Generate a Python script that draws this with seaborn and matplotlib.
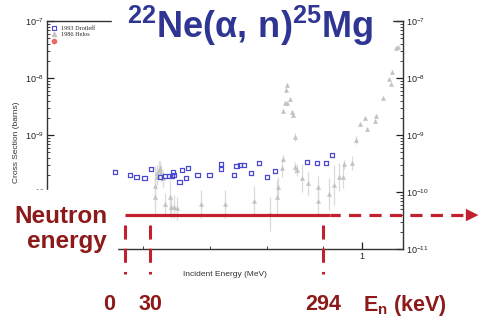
import matplotlib
matplotlib.use("Agg")
import numpy as np
import pandas as pd
import matplotlib.pyplot as plt
import seaborn as sns
from matplotlib.lines import Line2D
from matplotlib.patches import Rectangle
from matplotlib.ticker import FixedLocator, NullFormatter, LogLocator
import matplotlib.transforms as mtrans

# ---------------------------
# DATA
# ---------------------------
# 1993 Drotleff: incident alpha energy (MeV) and cross section (barns)
drot_energy = [0.563, 0.589, 0.601, 0.615, 0.627, 0.643, 0.651, 0.659, 0.664, 0.666,
               0.668, 0.677, 0.681, 0.688, 0.692, 0.709, 0.730, 0.750, 0.751, 0.773,
               0.778, 0.784, 0.791, 0.804, 0.817, 0.832, 0.846, 0.903, 0.920, 0.936,
               0.947]
drot_xs = [2.25e-10, 2.01e-10, 1.81e-10, 1.74e-10, 2.50e-10, 1.83e-10, 1.91e-10, 1.91e-10,
           1.93e-10, 2.22e-10, 2.01e-10, 1.52e-10, 2.40e-10, 1.74e-10, 2.61e-10, 2.01e-10,
           2.01e-10, 3.06e-10, 2.56e-10, 2.01e-10, 2.89e-10, 3.01e-10, 3.01e-10, 2.13e-10,
           3.19e-10, 1.81e-10, 2.34e-10, 3.36e-10, 3.27e-10, 3.27e-10, 4.46e-10]

# 1986 Helos: energy (MeV), cross section (barns), error half-width in decades
helos_energy = [0.634, 0.634, 0.637, 0.638, 0.641, 0.642, 0.645, 0.647, 0.651, 0.660,
                0.662, 0.668, 0.672, 0.715, 0.758, 0.808, 0.837, 0.849, 0.851, 0.859,
                0.860, 0.861, 0.864, 0.865, 0.867, 0.867, 0.873, 0.877, 0.878, 0.881,
                0.881, 0.885, 0.893, 0.904, 0.923, 0.923, 0.941, 0.951, 0.959, 0.967,
                0.968, 0.982, 0.990, 0.997, 1.005, 1.009, 1.023, 1.025, 1.037, 1.047,
                1.051, 1.054, 1.060, 1.064]
helos_xs = [1.29e-10, 8.27e-11, 1.85e-10, 2.13e-10, 2.43e-10, 2.64e-10, 2.13e-10, 1.74e-10,
            6.15e-11, 8.07e-11, 5.52e-11, 5.52e-11, 5.18e-11, 6.15e-11, 6.15e-11, 7.03e-11,
            4.11e-11, 8.17e-11, 1.21e-10, 2.61e-10, 3.87e-10, 2.66e-9, 3.71e-9, 6.28e-9,
            7.54e-9, 3.60e-9, 4.23e-9, 2.56e-9, 2.24e-9, 9.12e-10, 2.71e-10, 2.43e-10,
            1.76e-10, 1.42e-10, 1.21e-10, 7.03e-11, 9.15e-11, 1.32e-10, 1.85e-10, 1.84e-10,
            3.06e-10, 3.27e-10, 8.07e-10, 1.54e-9, 1.96e-9, 1.26e-9, 1.73e-9, 2.15e-9,
            4.40e-9, 9.50e-9, 7.74e-9, 1.27e-8, 3.32e-8, 3.54e-8]
helos_err = [0.35, 0.35, 0.15, 0.15, 0.15, 0.12, 0.15, 0.15, 0.2, 0.3,
             0.2, 0.2, 0.2, 0.25, 0.25, 0.25, 0.3, 0.3, 0.18, 0.15,
             0.07, 0.03, 0.03, 0.03, 0.03, 0.03, 0.03, 0.03, 0.03, 0.07,
             0.1, 0.1, 0.25, 0.2, 0.2, 0.28, 0.28, 0.35, 0.25, 0.2,
             0.08, 0.12, 0.07, 0.03, 0.03, 0.03, 0.03, 0.03, 0.03, 0.02,
             0.02, 0.02, 0.02, 0.02]

# neutron energy markers (keV) and the alpha energies they sit at
neutron_labels = ["0", "30", "294"]
neutron_alpha = [0.581, 0.625, 0.931]
neutron_label_x = [0.552, 0.625, 0.931]
arrow_level = 3.94e-11
solid_end = 0.943

legend_labels = ["1993 Drotleff", "1986 Helos", " "]

# colours
BLUE = "#4848d2"
GRAY = "#c2c2c2"
RED = "#c3202f"
DARKRED = "#8c1a1a"
TITLE_BLUE = "#2f3593"

# ---------------------------
# STYLE
# ---------------------------
sns.set_style("ticks")
plt.rcParams["font.family"] = ["Liberation Sans", "DejaVu Sans"]
plt.rcParams["mathtext.fontset"] = "custom"
plt.rcParams["mathtext.rm"] = "Liberation Sans"
plt.rcParams["mathtext.bf"] = "Liberation Sans:bold"
plt.rcParams["mathtext.it"] = "Liberation Sans:italic"

fig = plt.figure(figsize=(4.81, 3.21), dpi=100)
ax = fig.add_axes([47 / 481, 1 - 249 / 321, 356 / 481, 228 / 321])

df_drot = pd.DataFrame({"energy": drot_energy, "xs": drot_xs})
df_helos = pd.DataFrame({"energy": helos_energy, "xs": helos_xs, "err": helos_err})

# error bars for the Helos points
lo = df_helos["xs"] - df_helos["xs"] * 10 ** (-df_helos["err"])
hi = df_helos["xs"] * 10 ** df_helos["err"] - df_helos["xs"]
ax.errorbar(df_helos["energy"], df_helos["xs"], yerr=[lo, hi], fmt="none",
            ecolor="#dadada", elinewidth=0.9, capsize=0, zorder=1)

sns.scatterplot(data=df_helos, x="energy", y="xs", marker="^", color=GRAY,
                edgecolor=GRAY, s=9, linewidth=0.3, ax=ax, zorder=2)
sns.scatterplot(data=df_drot, x="energy", y="xs", marker="s", facecolor="none",
                edgecolor=BLUE, s=9, linewidth=0.9, ax=ax, zorder=3)

ax.set_yscale("log")
ax.set_ylim(1e-11, 1e-7)
ax.set_xlim(0.4425, 1.0726)

ax.xaxis.set_major_locator(FixedLocator([1.0]))
ax.set_xticklabels(["1"])
ax.xaxis.set_minor_locator(FixedLocator([0.612, 0.731, 0.832, 0.931]))
ax.yaxis.set_major_locator(LogLocator(base=10, numticks=10))
ax.yaxis.set_minor_locator(LogLocator(base=10, subs=np.arange(2, 10), numticks=10))
ax.yaxis.set_minor_formatter(NullFormatter())

ax.tick_params(axis="both", which="major", direction="in", length=5, width=0.9,
               labelsize=6.5, colors="#222222", pad=2)
ax.tick_params(axis="both", which="minor", direction="in", length=2.5, width=0.6)
ax.tick_params(axis="y", which="both", left=True, right=True, labelleft=True, labelright=True)
ax.tick_params(axis="x", which="both", top=False)
for sp in ax.spines.values():
    sp.set_visible(True)
    sp.set_color("#333333")
    sp.set_linewidth(1.0)

ax.set_xlabel("Incident Energy (MeV)", fontsize=6, labelpad=7, color="#333333")
ax.set_ylabel("Cross Section (barns)", fontsize=6, color="#333333")
ax.yaxis.set_label_coords(-0.075, 0.47)

# legend
handles = [
    Line2D([], [], marker="s", ls="none", mfc="none", mec=BLUE, ms=3, mew=0.8),
    Line2D([], [], marker="^", ls="none", color=GRAY, ms=3),
    Line2D([], [], marker="o", ls="none", color="#ee6666", ms=3),
]
ax.legend(handles, legend_labels, loc="upper left", frameon=False,
          prop={"family": "Liberation Serif", "size": 4.5}, handlelength=0.8,
          handletextpad=0.8, labelspacing=0.2, borderaxespad=0.3)

# the left 10^-11 label sits under the slide text, hide only that one
fig.canvas.draw()
for tick in ax.yaxis.get_major_ticks():
    if abs(tick.get_loc() - 1e-11) < 1e-13:
        tick.label1.set_visible(False)

# ---------------------------
# OVERLAYS (slide annotations)
# ---------------------------
# white patches that hide parts of the plot behind the slide text
fig.add_artist(Rectangle((112 / 481, 1 - 50 / 321), 280 / 481, 50 / 321,
                         transform=fig.transFigure, color="white", zorder=5))
fig.add_artist(Rectangle((0, 0), 117 / 481, 1 - 190 / 321,
                         transform=fig.transFigure, color="white", zorder=5))

fig.text(250 / 481, 1 - 26 / 321, r"$\mathbf{{}^{22}Ne(α,\,n){}^{25}Mg}$",
         color=TITLE_BLUE, fontsize=26, ha="center", va="center", zorder=6)

fig.text(107 / 481, 1 - 229 / 321, "Neutron\nenergy", color=DARKRED,
         fontsize=17.5, fontweight="bold", ha="right", va="center",
         linespacing=1.15, zorder=6)

# neutron energy arrow
ax.plot([neutron_alpha[0], solid_end], [arrow_level, arrow_level], color=RED,
        lw=2.3, solid_capstyle="butt", clip_on=False, zorder=7)
ax.plot([solid_end, 1.18], [arrow_level, arrow_level], color=RED, lw=2.3,
        ls=(0.6, (3.8, 2.6)), clip_on=False, zorder=7)
ax.annotate("", xy=(1.206, arrow_level), xytext=(1.17, arrow_level),
            arrowprops=dict(arrowstyle="-|>,head_length=0.9,head_width=0.45",
                            color=RED, lw=0, shrinkA=0, shrinkB=0),
            annotation_clip=False, zorder=7)

# vertical dashed markers
blend = mtrans.blended_transform_factory(ax.transData, fig.transFigure)
for xa in neutron_alpha:
    ax.plot([xa, xa], [1 - 225 / 321, 1 - 274 / 321], color=RED, lw=2.2,
            ls=(0, (4.6, 3.0)), transform=blend, clip_on=False, zorder=7)

for lab, xl in zip(neutron_labels, neutron_label_x):
    fig.text(xl, 1 - 305 / 321, lab, transform=blend, color=DARKRED, fontsize=15.5,
             fontweight="bold", ha="center", va="center", zorder=7)
fig.text(363 / 481, 1 - 305 / 321, r"E$_\mathbf{n}$ (keV)", color=DARKRED,
         fontsize=15.5, fontweight="bold", ha="left", va="center", zorder=7)

fig.savefig("out.png", dpi=100, facecolor="white")
